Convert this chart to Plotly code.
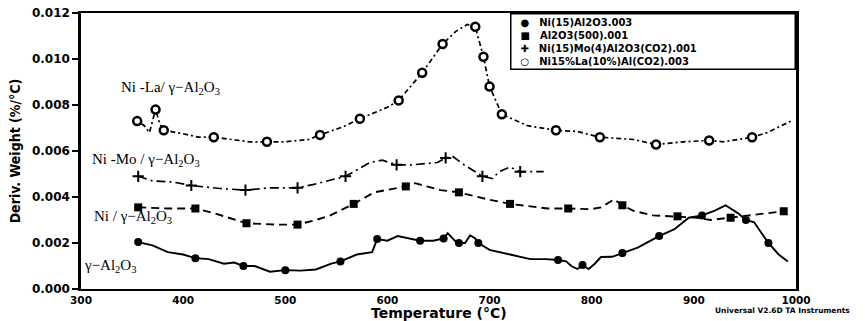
import plotly.graph_objects as go

# ---------------- data ----------------
# Ni(15)Al2O3.003  (solid line, filled circles)
ni_T = [356, 370, 385, 400, 412, 425, 440, 450, 459, 470, 485, 500, 515, 530, 545, 554, 570, 585,
        590, 600, 610, 620, 632, 645, 655, 659, 666, 670, 676, 681, 686, 689, 700, 720, 740, 755,
        767, 775, 780, 786, 791, 797, 803, 809, 820, 830, 845, 855, 866, 881, 895, 908, 920, 931,
        943, 951, 959, 973, 983, 992]
ni_y = [0.00204, 0.0019, 0.0016, 0.0015, 0.00134, 0.0013, 0.0011, 0.00115, 0.0010, 0.0010, 0.00075,
        0.00082, 0.0008, 0.00085, 0.0011, 0.0012, 0.0015, 0.0016, 0.00217, 0.0021, 0.0023, 0.0022,
        0.0021, 0.0021, 0.0022, 0.00243, 0.0021, 0.0020, 0.0020, 0.00234, 0.0022, 0.0020, 0.0017,
        0.0015, 0.0013, 0.0013, 0.00126, 0.0012, 0.0010, 0.00087, 0.00104, 0.00087, 0.0011, 0.00139,
        0.0014, 0.00156, 0.0018, 0.00204, 0.0023, 0.0026, 0.0031, 0.0032, 0.0034, 0.00364, 0.0033,
        0.0030, 0.0029, 0.0020, 0.0015, 0.0012]
ni_marker_T = [356, 412, 459, 500, 554, 590, 632, 655, 670, 689, 767, 791, 830, 866, 908, 951, 973]

# Al2O3(500).001  (dashed line, squares)
al_T = [356, 385, 412, 430, 462, 490, 512, 530, 544, 567, 587, 618, 627, 652, 670, 698, 720, 757,
        777, 799, 809, 822, 830, 841, 860, 884, 903, 916, 936, 955, 988]
al_y = [0.00355, 0.0035, 0.0035, 0.0033, 0.00286, 0.0028, 0.0028, 0.0030, 0.0032, 0.0037, 0.0042,
        0.00446, 0.0046, 0.0043, 0.0042, 0.0039, 0.0037, 0.0035, 0.0035, 0.00347, 0.00355, 0.0039,
        0.00364, 0.0034, 0.0032, 0.00316, 0.0031, 0.0030, 0.0031, 0.0032, 0.00338]
al_marker_T = [356, 412, 462, 512, 567, 618, 670, 720, 777, 830, 884, 936, 988]

# Ni(15)Mo(4)Al2O3(CO2).001  (dash-dot line, plus)
mo_T = [356, 370, 390, 408, 436, 461, 485, 512, 528, 559, 583, 595, 609, 625, 649, 657, 664, 675,
        693, 703, 709, 720, 730, 753]
mo_y = [0.0049, 0.0047, 0.00465, 0.0045, 0.00437, 0.0043, 0.0044, 0.0044, 0.00455, 0.0049, 0.0055,
        0.0056, 0.0054, 0.0054, 0.0055, 0.0057, 0.00576, 0.0054, 0.0049, 0.0048, 0.0051, 0.0053,
        0.0051, 0.0051]
mo_marker_T = [356, 408, 461, 512, 559, 609, 657, 693, 730]

# Ni15%La(10%)Al(CO2).003  (dotted line, open circles)
la_T = [355, 362, 367, 373, 377, 381, 399, 415, 430, 446, 465, 482, 500, 523, 534, 557, 573, 600,
        611, 634, 654, 667, 678, 686, 694, 700, 712, 737, 765, 786, 808, 841, 863, 890, 915, 929,
        957, 972, 995]
la_y = [0.0073, 0.0071, 0.0068, 0.0078, 0.0072, 0.0069, 0.00676, 0.0066, 0.0066, 0.0065, 0.0064,
        0.0064, 0.0064, 0.0065, 0.0067, 0.00706, 0.0074, 0.0079, 0.0082, 0.0094, 0.01065, 0.0112,
        0.0115, 0.0114, 0.0101, 0.0088, 0.0076, 0.0071, 0.0069, 0.00685, 0.0066, 0.0065, 0.00628,
        0.0064, 0.00646, 0.0064, 0.0066, 0.0068, 0.0073]
la_marker_T = [355, 373, 381, 430, 482, 534, 573, 611, 634, 654, 686, 694, 700, 712, 765, 808, 863,
               915, 957]

series_names = ["Ni(15)Al2O3.003", "Al2O3(500).001", "Ni(15)Mo(4)Al2O3(CO2).001",
                "Ni15%La(10%)Al(CO2).003"]
legend_glyphs = ["●", "■", "✚", "○"]

curve_labels = ["Ni -La/ γ−Al<sub>2</sub>O<sub>3</sub>", "Ni -Mo / γ−Al<sub>2</sub>O<sub>3</sub>",
                "Ni / γ−Al<sub>2</sub>O<sub>3</sub>", "γ−Al<sub>2</sub>O<sub>3</sub>"]
curve_label_T = [337, 309, 311, 301]
curve_label_y = [0.00875, 0.00563, 0.00312, 0.0010]

x_ticks = [300, 400, 500, 600, 700, 800, 900, 1000]
y_ticks = [0.000, 0.002, 0.004, 0.006, 0.008, 0.010, 0.012]
y_tick_labels = ["0.000", "0.002", "0.004", "0.006", "0.008", "0.010", "0.012"]

x_title = "Temperature (°C)"
y_title = "Deriv. Weight (%/°C)"
footer = "Universal V2.6D TA Instruments"

# ---------------- figure ----------------
PLOT_TOP, PLOT_BOTTOM, PLOT_LEFT, PLOT_RIGHT = 13, 289, 81, 796


def paper_y(py):
    return (PLOT_BOTTOM - py) / (PLOT_BOTTOM - PLOT_TOP)


def paper_x(px):
    return (px - PLOT_LEFT) / (PLOT_RIGHT - PLOT_LEFT)


def pick(T, y, sel):
    lookup = dict(zip(T, y))
    return sel, [lookup[t] for t in sel]


fig = go.Figure()

styles = [
    dict(T=ni_T, y=ni_y, m=ni_marker_T, dash="solid", width=1.9,
         marker=dict(symbol="circle", size=8, color="black")),
    dict(T=al_T, y=al_y, m=al_marker_T, dash="8px,5px", width=1.9,
         marker=dict(symbol="square", size=8, color="black")),
    dict(T=mo_T, y=mo_y, m=mo_marker_T, dash="9px,4px,2px,4px", width=1.7,
         marker=dict(symbol="cross-thin", size=8, color="black", line=dict(width=2, color="black"))),
    dict(T=la_T, y=la_y, m=la_marker_T, dash="2px,3px,5px,3px", width=1.7,
         marker=dict(symbol="circle", size=8, color="white", line=dict(width=2.5, color="black"))),
]

for name, s in zip(series_names, styles):
    fig.add_trace(go.Scatter(x=s["T"], y=s["y"], mode="lines", name=name, legendgroup=name,
                             showlegend=False,
                             line=dict(color="black", width=s["width"], dash=s["dash"])))
    mx, my = pick(s["T"], s["y"], s["m"])
    fig.add_trace(go.Scatter(x=mx, y=my, mode="markers", name=name, legendgroup=name,
                             showlegend=False, marker=s["marker"]))

annotations = []
for txt, t, v in zip(curve_labels, curve_label_T, curve_label_y):
    annotations.append(dict(x=t, y=v, xref="x", yref="y", text=txt, showarrow=False,
                            xanchor="left", yanchor="middle",
                            font=dict(family="Liberation Serif, Times New Roman, serif",
                                      size=15, color="black")))

legend_lines = ["\u00a0\u00a0" + g + "\u2003" + n for g, n in zip(legend_glyphs, series_names)]
annotations.append(dict(x=1, y=1, xref="paper", yref="paper", xanchor="right", yanchor="top",
                        text="<br>".join(legend_lines), showarrow=False, align="left",
                        width=279, bordercolor="black", borderwidth=1.5, borderpad=2,
                        bgcolor="white",
                        font=dict(family="DejaVu Sans", size=10, color="black", weight="bold")))

# x-axis title (placed under the tick labels)
annotations.append(dict(x=0.5, y=paper_y(313), xref="paper", yref="paper", text=x_title,
                        showarrow=False, xanchor="center", yanchor="middle",
                        font=dict(family="DejaVu Sans", size=14, color="black", weight="bold")))

# instrument footer
annotations.append(dict(x=paper_x(713), y=paper_y(310), xref="paper", yref="paper",
                        text=footer, showarrow=False, xanchor="left", yanchor="middle",
                        font=dict(family="DejaVu Sans", size=7.5, color="black", weight="bold")))

fig.update_layout(
    width=868, height=321,
    margin=dict(l=PLOT_LEFT, r=868 - PLOT_RIGHT, t=PLOT_TOP, b=321 - PLOT_BOTTOM),
    paper_bgcolor="white", plot_bgcolor="white",
    showlegend=False,
    annotations=annotations,
    xaxis=dict(range=[300, 1000], tickvals=x_ticks, showgrid=False, zeroline=False,
               showline=True, linecolor="black", linewidth=2, mirror=True,
               ticks="", ticklen=0,
               tickfont=dict(family="DejaVu Sans", size=10.5, color="black", weight="bold"),
               automargin=False),
    yaxis=dict(range=[0, 0.012], tickvals=y_ticks, ticktext=y_tick_labels, showgrid=False,
               zeroline=False, showline=True, linecolor="black", linewidth=2.5, mirror=True,
               ticks="outside", ticklen=6, tickwidth=1.5, tickcolor="black",
               tickfont=dict(family="DejaVu Sans", size=12, color="black", weight="bold"),
               title=dict(text=y_title, standoff=8,
                          font=dict(family="Liberation Sans Narrow, DejaVu Sans Condensed, Arial Narrow",
                                    size=14, color="black", weight="bold")),
               automargin=False),
)

fig.write_html("out.html")
